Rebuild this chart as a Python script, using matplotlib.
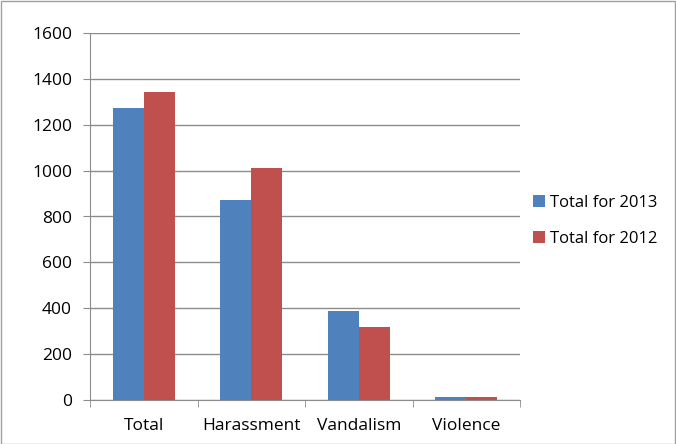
import numpy as np
import matplotlib
matplotlib.use("Agg")
import matplotlib.pyplot as plt
from matplotlib.patches import Rectangle

categories = ["Total", "Harassment", "Vandalism", "Violence"]
series_2013 = [1271, 870, 387, 13]
series_2012 = [1343, 1011, 318, 13]
labels = ["Total for 2013", "Total for 2012"]
yticks = [0, 200, 400, 600, 800, 1000, 1200, 1400, 1600]

plt.rcParams['font.family'] = ['Open Sans', 'DejaVu Sans']
fs = 12.5

fig = plt.figure(figsize=(6.76, 4.44), dpi=100)
ax = fig.add_axes([90/676, 44/444, 430/676, 367/444])

x = np.arange(len(categories))
w = 0.29
ax.bar(x - w/2, series_2013, w, color="#4f81bd", label=labels[0])
ax.bar(x + w/2, series_2012, w, color="#c0504d", label=labels[1])

ax.set_xlim(-0.5, len(categories) - 0.5)
ax.set_ylim(0, 1600)
ax.set_yticks(yticks)
ax.set_yticklabels([str(v) for v in yticks], fontsize=fs)
ax.yaxis.grid(True, color="#8c8c8c", linewidth=1)
ax.set_axisbelow(True)

# category labels centered, tick marks at boundaries
ax.set_xticks(x)
ax.set_xticklabels(categories, fontsize=fs)
ax.tick_params(axis='x', length=0, pad=13)
ax.set_xticks(np.arange(len(categories) + 1) - 0.5, minor=True)
ax.tick_params(axis='x', which='minor', length=5, color="#8c8c8c")
ax.tick_params(axis='y', length=5, color="#8c8c8c", pad=8)

for s in ["top", "right"]:
    ax.spines[s].set_visible(False)
for s in ["left", "bottom"]:
    ax.spines[s].set_color("#8c8c8c")

fig.legend(loc="center left", bbox_to_anchor=(518/676, 1 - 221/444),
           frameon=False, fontsize=12, handlelength=0.7, handleheight=0.7,
           labelspacing=1.2, handletextpad=0.3)

fig.patches.append(Rectangle((0.5/676, 0.5/444), 674/676, 442/444, transform=fig.transFigure,
                             fill=False, edgecolor="#a0a0a0", linewidth=1))

fig.savefig("out.png", dpi=100)
